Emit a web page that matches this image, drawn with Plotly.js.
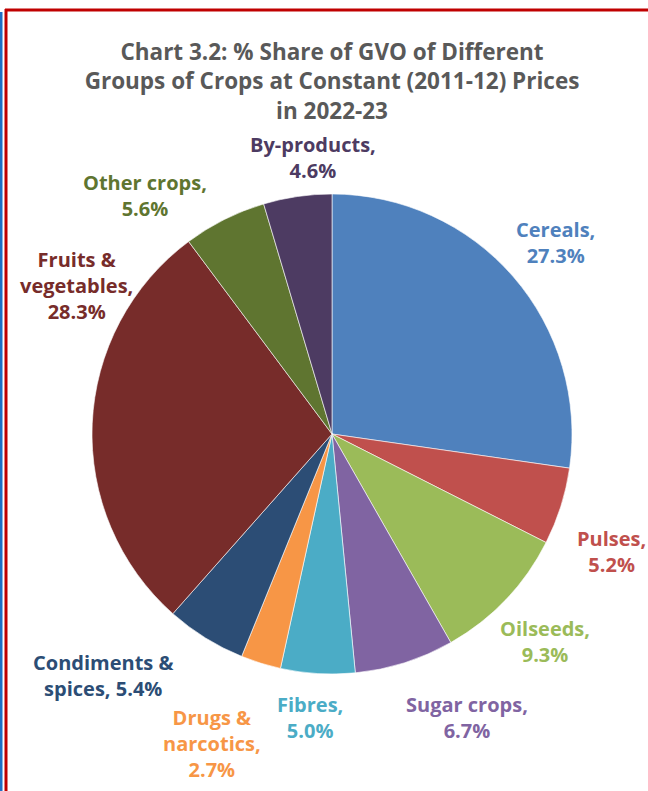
<!DOCTYPE html>
<html>
<head>
<meta charset="utf-8">
<script src="https://cdn.plot.ly/plotly-3.0.1.min.js"></script>
<style>html,body{margin:0;padding:0;background:#fff;}#chart{width:648px;height:791px;}</style>
</head>
<body>
<div id="chart"></div>
<script>
// ---- data ----
var categories = ["Cereals", "Pulses", "Oilseeds", "Sugar crops", "Fibres", "Drugs & narcotics", "Condiments & spices", "Fruits & vegetables", "Other crops", "By-products"];
var shares = [27.3, 5.2, 9.3, 6.7, 5.0, 2.7, 5.4, 28.3, 5.6, 4.6];
var labelLines = ["Cereals,<br>", "Pulses,<br>", "Oilseeds,<br>", "Sugar crops,<br>", "Fibres,<br>", "Drugs &<br>narcotics,<br>", "Condiments &<br>spices, ", "Fruits &<br>vegetables,<br>", "Other crops,<br>", "By-products,<br>"];
var titleText = "Chart 3.2: % Share of GVO of Different<br>Groups of Crops at Constant (2011-12) Prices<br>in 2022-23";

// ---- styles ----
var sliceColors = ["#4F81BD", "#C0504D", "#9BBB59", "#8064A2", "#4BACC6", "#F79646", "#2C4D75", "#772C2A", "#5F7530", "#4D3B62"];
var textColors  = ["#4F81BD", "#C0504D", "#9BBB59", "#8064A2", "#4BACC6", "#F79646", "#2C4D75", "#772C2A", "#5F7530", "#4D3B62"];
var W = 648, H = 791;
// label centre positions (pixels)
var labelPos = [[555,243],[611,551],[545,641],[467,717],[310,717],[212,743],[103,675],[76,286],[145,196],[313,157]];
var FONT = "'Open Sans', sans-serif";

function px(x){ return x / W; }
function py(y){ return 1 - y / H; }

var annotations = categories.map(function(c, i){
  return {
    xref: "paper", yref: "paper",
    x: px(labelPos[i][0]), y: py(labelPos[i][1]),
    xanchor: "center", yanchor: "middle",
    text: "<b>" + labelLines[i] + shares[i].toFixed(1) + "%</b>",
    showarrow: false,
    align: "center",
    font: {family: FONT, size: 20, color: textColors[i]}
  };
});

var trace = {
  type: "pie",
  labels: categories,
  values: shares,
  sort: false,
  direction: "clockwise",
  rotation: 0,
  textinfo: "none",
  hoverinfo: "label+percent",
  marker: {colors: sliceColors, line: {color: "#ffffff", width: 0.6}},
  domain: {x: [px(92), px(572)], y: [py(674), py(194)]},
  showlegend: false
};

var layout = {
  width: W, height: H,
  margin: {l: 0, r: 0, t: 0, b: 0},
  paper_bgcolor: "#ffffff",
  showlegend: false,
  title: {
    text: "<b>" + titleText + "</b>",
    x: px(332), xanchor: "center",
    y: py(60), yanchor: "top",
    font: {family: FONT, size: 22.5, color: "#595959"}
  },
  annotations: annotations,
  shapes: [
    {type: "line", xref: "paper", yref: "paper", x0: px(1), x1: px(1), y0: py(12), y1: py(791), line: {color: "#1F6FC5", width: 3}},
    {type: "line", xref: "paper", yref: "paper", x0: px(6), x1: px(6), y0: py(9), y1: py(791), line: {color: "#C00000", width: 3}},
    {type: "line", xref: "paper", yref: "paper", x0: px(5), x1: px(648), y0: py(10), y1: py(10), line: {color: "#C00000", width: 3}}
  ]
};

Plotly.newPlot("chart", [trace], layout, {displayModeBar: false, staticPlot: true});
</script>
</body>
</html>
